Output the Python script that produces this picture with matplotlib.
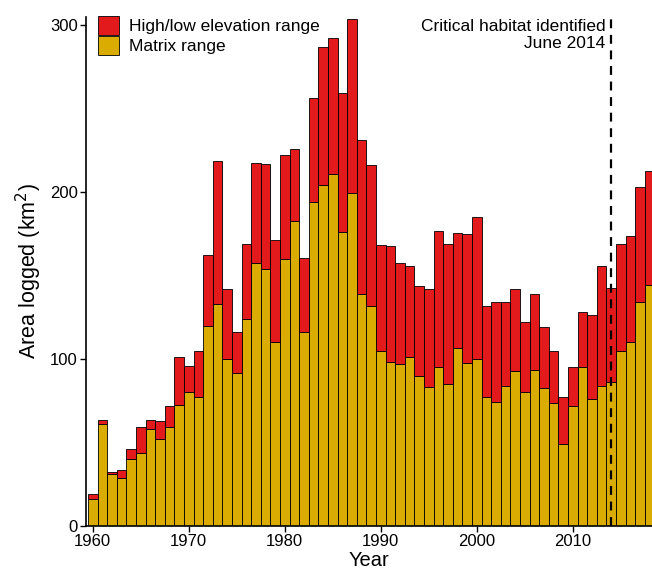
import numpy as np
import matplotlib
matplotlib.use('Agg')
import matplotlib.pyplot as plt

plt.rcParams['font.family'] = ['Liberation Sans', 'DejaVu Sans']

# Anos e áreas (km2)
years = np.arange(1960, 2019)
matrix = [16, 61, 31, 29, 40, 44, 58, 52, 59, 72.5,
          80, 77, 120, 133, 100, 91.6, 124, 157.5, 154, 110,
          160, 182.6, 116, 194, 204, 211, 176, 199.5, 139, 131.6,
          105, 98.2, 97.2, 101.3, 90, 83, 95, 85.2, 106.6, 97.4,
          100, 77.4, 74.5, 84, 92.6, 80.5, 93.5, 82.4, 73.7, 48.8,
          72, 95.3, 76.2, 84, 86.5, 104.6, 110.2, 134.2, 144.1]
total = [19.4, 63.6, 32.3, 33.8, 46.3, 59.5, 63.6, 62.8, 72.1, 101.3,
         95.9, 104.6, 162.4, 218.4, 142.1, 116.3, 168.6, 217.6, 216.8, 171.5,
         222.3, 225.7, 160.2, 256.1, 287, 292.4, 259.2, 303.5, 231, 216.2,
         168, 167.6, 157.3, 155.9, 143.7, 142.1, 176.9, 168.8, 175.6, 174.8,
         185.1, 131.6, 134.4, 134.2, 142.1, 122.3, 138.8, 119, 105, 77,
         95.3, 127.9, 126.6, 155.4, 142.7, 169, 173.4, 203.2, 212.7]
high_low = np.array(total) - np.array(matrix)

fig = plt.figure(figsize=(6.52, 5.75), dpi=100)
ax = fig.add_axes([0.132, 0.0852, 0.868, 0.886])

ax.bar(years, matrix, width=1, color='#DAAB00', edgecolor='black', linewidth=0.6,
       label='Matrix range')
ax.bar(years, high_low, bottom=matrix, width=1, color='#E31A1C', edgecolor='black',
       linewidth=0.6, label='High/low elevation range')

ax.axvline(2014, color='black', linestyle=(0, (4, 3)), linewidth=1.6)
ax.text(2013.4, 303.5, 'Critical habitat identified\nJune 2014', ha='right', va='top',
        fontsize=12.5, linespacing=1.2)

ax.set_xlim(1959.3, 2018.25)
ax.set_ylim(0, 305)
ax.set_xticks([1960, 1970, 1980, 1990, 2000, 2010])
ax.set_yticks([0, 100, 200, 300])
ax.tick_params(labelsize=12, length=4, width=1, colors='black', pad=2)
for s in ['top', 'right']:
    ax.spines[s].set_visible(False)
for s in ['left', 'bottom']:
    ax.spines[s].set_linewidth(1.2)

ax.set_xlabel('Year', fontsize=14.5, labelpad=1)
ax.set_ylabel('Area logged (km$^2$)', fontsize=15.5, labelpad=4)

handles, labels = ax.get_legend_handles_labels()
ax.legend(handles[::-1], labels[::-1], loc='upper left', bbox_to_anchor=(0.0, 1.025),
          frameon=False, fontsize=12.5, handlelength=1.2, handleheight=1.3,
          handletextpad=0.6, labelspacing=0.05, borderaxespad=0.3)

plt.savefig('out.png', dpi=100)
